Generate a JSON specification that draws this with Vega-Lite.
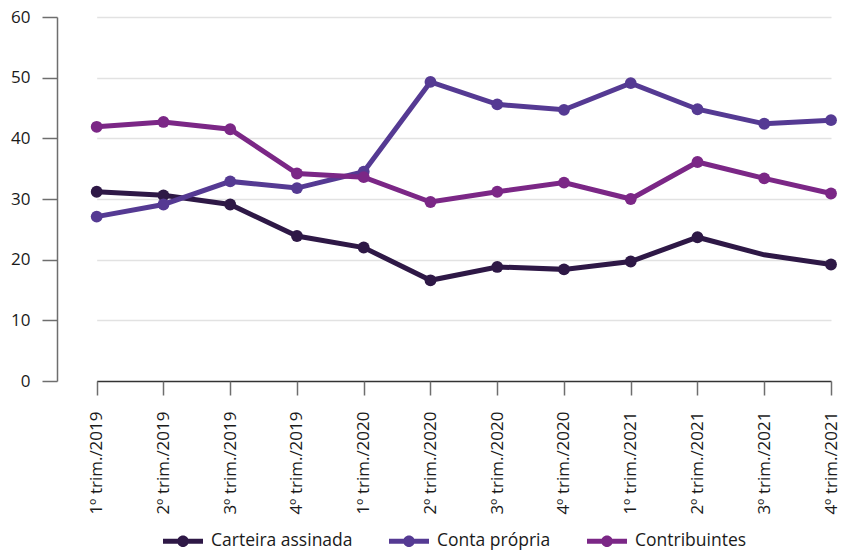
{
  "$schema": "https://vega.github.io/schema/vega-lite/v6.json",
  "autosize": {"type": "none"},
  "width": 795,
  "height": 364,
  "padding": {"left": 57, "top": 17, "right": 0, "bottom": 172},
  "background": "white",
  "data": {
    "values": [
      {"trim": "1º trim./2019", "serie": "Carteira assinada", "valor": 31.2},
      {"trim": "2º trim./2019", "serie": "Carteira assinada", "valor": 30.6},
      {"trim": "3º trim./2019", "serie": "Carteira assinada", "valor": 29.1},
      {"trim": "4º trim./2019", "serie": "Carteira assinada", "valor": 23.9},
      {"trim": "1º trim./2020", "serie": "Carteira assinada", "valor": 22.0},
      {"trim": "2º trim./2020", "serie": "Carteira assinada", "valor": 16.6},
      {"trim": "3º trim./2020", "serie": "Carteira assinada", "valor": 18.8},
      {"trim": "4º trim./2020", "serie": "Carteira assinada", "valor": 18.4},
      {"trim": "1º trim./2021", "serie": "Carteira assinada", "valor": 19.7},
      {"trim": "2º trim./2021", "serie": "Carteira assinada", "valor": 23.7},
      {"trim": "3º trim./2021", "serie": "Carteira assinada", "valor": 20.8},
      {"trim": "4º trim./2021", "serie": "Carteira assinada", "valor": 19.2},
      {"trim": "1º trim./2019", "serie": "Conta própria", "valor": 27.1},
      {"trim": "2º trim./2019", "serie": "Conta própria", "valor": 29.1},
      {"trim": "3º trim./2019", "serie": "Conta própria", "valor": 32.9},
      {"trim": "4º trim./2019", "serie": "Conta própria", "valor": 31.8},
      {"trim": "1º trim./2020", "serie": "Conta própria", "valor": 34.5},
      {"trim": "2º trim./2020", "serie": "Conta própria", "valor": 49.3},
      {"trim": "3º trim./2020", "serie": "Conta própria", "valor": 45.6},
      {"trim": "4º trim./2020", "serie": "Conta própria", "valor": 44.7},
      {"trim": "1º trim./2021", "serie": "Conta própria", "valor": 49.1},
      {"trim": "2º trim./2021", "serie": "Conta própria", "valor": 44.8},
      {"trim": "3º trim./2021", "serie": "Conta própria", "valor": 42.4},
      {"trim": "4º trim./2021", "serie": "Conta própria", "valor": 43.0},
      {"trim": "1º trim./2019", "serie": "Contribuintes", "valor": 41.9},
      {"trim": "2º trim./2019", "serie": "Contribuintes", "valor": 42.7},
      {"trim": "3º trim./2019", "serie": "Contribuintes", "valor": 41.5},
      {"trim": "4º trim./2019", "serie": "Contribuintes", "valor": 34.2},
      {"trim": "1º trim./2020", "serie": "Contribuintes", "valor": 33.6},
      {"trim": "2º trim./2020", "serie": "Contribuintes", "valor": 29.5},
      {"trim": "3º trim./2020", "serie": "Contribuintes", "valor": 31.2},
      {"trim": "4º trim./2020", "serie": "Contribuintes", "valor": 32.7},
      {"trim": "1º trim./2021", "serie": "Contribuintes", "valor": 30.0},
      {"trim": "2º trim./2021", "serie": "Contribuintes", "valor": 36.1},
      {"trim": "3º trim./2021", "serie": "Contribuintes", "valor": 33.4},
      {"trim": "4º trim./2021", "serie": "Contribuintes", "valor": 30.9}
    ]
  },
  "encoding": {
    "x": {
      "field": "trim",
      "type": "ordinal",
      "sort": null,
      "title": null,
      "scale": {"type": "point", "range": [39.7, 774], "padding": 0},
      "axis": {
        "domain": false,
        "grid": false,
        "labelAngle": 270,
        "labelAlign": "right",
        "labelBaseline": "middle",
        "labelPadding": 16,
        "labelFontSize": 17,
        "tickSize": 14,
        "tickWidth": 1.5,
        "tickColor": "#6e6e6e"
      }
    },
    "y": {
      "field": "valor",
      "type": "quantitative",
      "title": null,
      "scale": {"domain": [0, 60], "nice": false},
      "axis": {
        "values": [0, 10, 20, 30, 40, 50, 60],
        "domainColor": "#6e6e6e",
        "domainWidth": 1.5,
        "tickSize": 15,
        "tickWidth": 1.5,
        "tickColor": "#6e6e6e",
        "labelPadding": 12,
        "labelFontSize": 17,
        "gridColor": {"condition": {"test": "datum.value === 0", "value": "#333333"}, "value": "#e2e2e2"},
        "gridWidth": 1.5
      }
    },
    "color": {
      "field": "serie",
      "type": "nominal",
      "title": null,
      "scale": {
        "domain": ["Carteira assinada", "Conta própria", "Contribuintes"],
        "range": ["#2e1846", "#553a93", "#7b2786"]
      },
      "legend": {
        "orient": "bottom",
        "direction": "horizontal",
        "symbolType": "M-1,-0.13H1V0.13H-1Z M-0.29,0A0.29,0.29 0 1,1 0.29,0A0.29,0.29 0 1,1 -0.29,0Z",
        "symbolSize": 1600,
        "symbolStrokeWidth": 0,
        "labelFontSize": 17.5,
        "labelOffset": 8,
        "columnPadding": 36,
        "offset": 6,
        "encode": {
          "symbols": {
            "update": {
              "fill": {"scale": "color", "field": "value"},
              "stroke": {"value": "transparent"},
              "opacity": {"value": 1}
            }
          }
        }
      }
    }
  },
  "layer": [
    {
      "mark": {"type": "line", "strokeWidth": 5}
    },
    {
      "transform": [
        {"filter": "!(datum.serie === 'Carteira assinada' && datum.trim === '3º trim./2021')"}
      ],
      "mark": {"type": "point", "filled": true, "opacity": 1, "size": 140}
    }
  ],
  "config": {
    "font": "Open Sans",
    "view": {"stroke": null},
    "axis": {"labelColor": "#1a1a1a", "labelFont": "Open Sans"},
    "legend": {"labelColor": "#1a1a1a", "labelFont": "Open Sans", "layout": {"bottom": {"anchor": "middle"}}}
  }
}
